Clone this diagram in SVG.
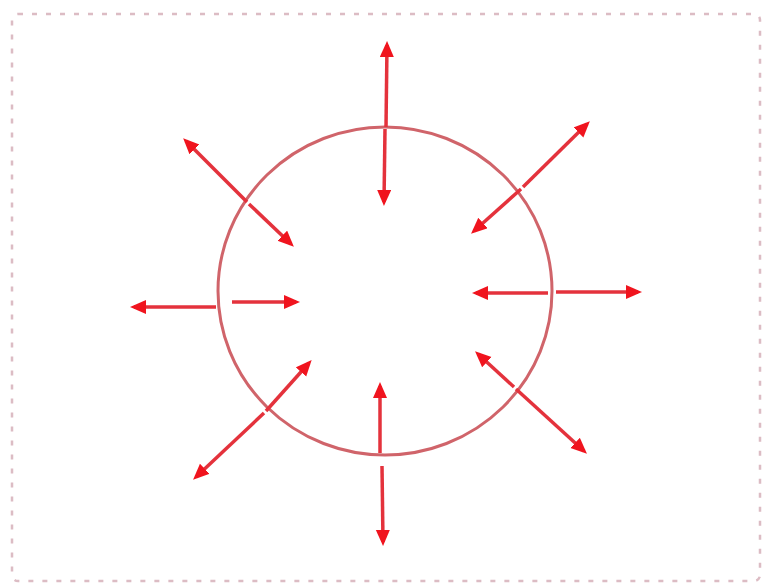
<svg xmlns="http://www.w3.org/2000/svg" width="764" height="586" viewBox="0 0 764 586">
  <style>
    .frame { fill: none; stroke: #dcbcc4; stroke-width: 2.5; stroke-dasharray: 5 9; }
    .circle { fill: none; stroke: #d0646a; stroke-width: 3; }
    .arr { fill: none; stroke: #e4323c; stroke-width: 3.5; marker-end: url(#head); }
  </style>
  <defs>
    <marker id="head" markerUnits="userSpaceOnUse" markerWidth="18" markerHeight="16" refX="12" refY="7" orient="auto">
      <path d="M0,0 L16,7 L0,14 z" fill="#f0141e"/>
    </marker>
  </defs>
  <rect width="764" height="586" fill="#ffffff"/>
  <rect class="frame" x="12" y="14" width="748" height="567" rx="6"/>
  <g id="circle">
    <ellipse class="circle" cx="385" cy="291" rx="167" ry="164"/>
  </g>
  <g id="connectors">
    <line class="arr" x1="386" y1="127" x2="387" y2="45"/>
    <line class="arr" x1="385" y1="129" x2="384" y2="202"/>
    <line class="arr" x1="216" y1="307" x2="134" y2="307"/>
    <line class="arr" x1="232" y1="302" x2="296" y2="302"/>
    <line class="arr" x1="548" y1="293" x2="476" y2="293"/>
    <line class="arr" x1="556" y1="292" x2="638" y2="292"/>
    <line class="arr" x1="380" y1="453" x2="380" y2="386"/>
    <line class="arr" x1="382" y1="466" x2="383" y2="542"/>
    <line class="arr" x1="247" y1="202" x2="186" y2="141"/>
    <line class="arr" x1="249" y1="204" x2="291" y2="244"/>
    <line class="arr" x1="523" y1="187" x2="587" y2="124"/>
    <line class="arr" x1="521" y1="189" x2="474" y2="231"/>
    <line class="arr" x1="264" y1="413" x2="196" y2="477"/>
    <line class="arr" x1="266" y1="411" x2="309" y2="363"/>
    <line class="arr" x1="514" y1="387" x2="478" y2="354"/>
    <line class="arr" x1="516" y1="389" x2="584" y2="451"/>
  </g>
</svg>
